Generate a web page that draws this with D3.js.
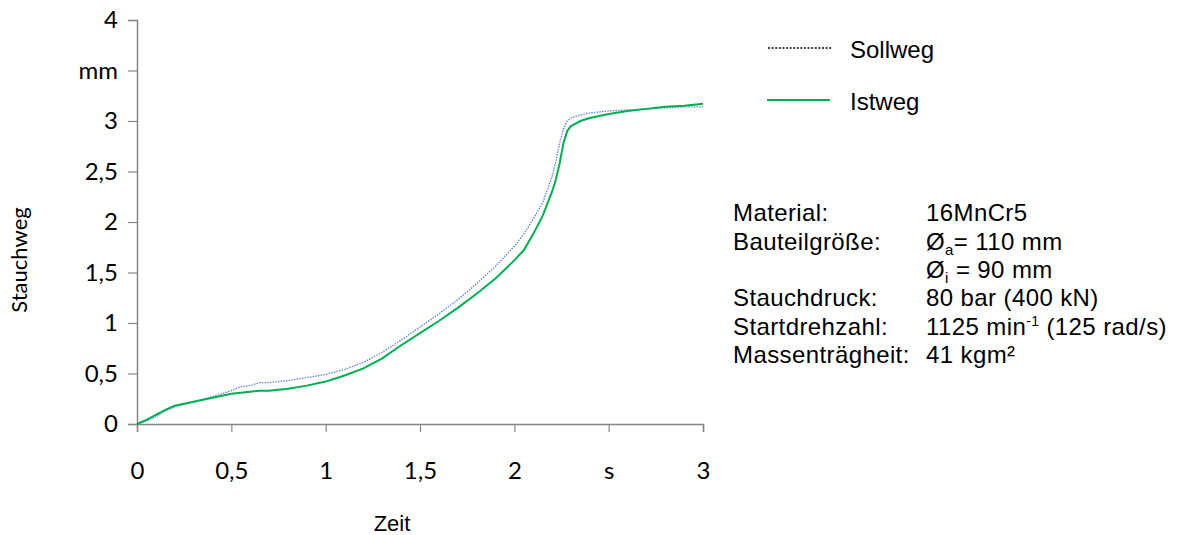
<!DOCTYPE html>
<html><head><meta charset="utf-8">
<script src="https://cdn.jsdelivr.net/npm/d3@7/dist/d3.min.js"></script>
<style>body{margin:0;background:#fff}svg{display:block}</style>
</head><body>
<svg id="c" width="1183" height="535"></svg>
<script>
const time = [0,0.05,0.1,0.15,0.2,0.3,0.4,0.5,0.55,0.6,0.65,0.7,0.8,0.9,1.0,1.1,1.2,1.3,1.4,1.5,1.6,1.7,1.8,1.9,2.0,2.05,2.1,2.15,2.2,2.22,2.24,2.26,2.28,2.3,2.35,2.4,2.5,2.6,2.7,2.8,2.9,3.0];
const istweg = [0,0.04,0.09,0.14,0.18,0.22,0.26,0.30,0.31,0.32,0.33,0.33,0.35,0.38,0.42,0.48,0.55,0.65,0.78,0.90,1.02,1.15,1.29,1.44,1.62,1.72,1.88,2.06,2.30,2.42,2.58,2.78,2.90,2.95,3.00,3.03,3.07,3.10,3.12,3.14,3.15,3.17];
const sollweg = [0,0.03,0.07,0.13,0.17,0.22,0.27,0.33,0.37,0.38,0.41,0.41,0.43,0.46,0.49,0.54,0.61,0.71,0.83,0.96,1.09,1.23,1.39,1.56,1.76,1.88,2.03,2.19,2.45,2.60,2.78,2.92,3.00,3.03,3.06,3.08,3.10,3.11,3.12,3.13,3.14,3.14];
const yTicks = [0,0.5,1,1.5,2,2.5,3,3.5,4];
const yTickLabels = ["0","0,5","1","1,5","2","2,5","3","mm","4"];
const xTicks = [0,0.5,1,1.5,2,2.5,3];
const xTickLabels = ["0","0,5","1","1,5","2","s","3"];
const seriesNames = ["Sollweg","Istweg"];
const infoLabels = ["Material:","Bauteilgröße:","","Stauchdruck:","Startdrehzahl:","Massenträgheit:"];

const svg = d3.select("#c");
const x = d3.scaleLinear().domain([0,3]).range([137,703]);
const y = d3.scaleLinear().domain([0,4]).range([424,20]);
const axisColor = "#868686";
const tickFont = "Lato, 'Open Sans', sans-serif";
const arial = "'Liberation Sans', Arial, sans-serif";

// Y axis
const ya = svg.append("g").attr("transform","translate(137,0)")
  .call(d3.axisLeft(y).tickValues(yTicks).tickSize(9).tickPadding(10)
    .tickFormat((d,i)=>yTickLabels[i]));
ya.select(".domain").attr("stroke",axisColor).attr("stroke-width",1.5);
ya.selectAll(".tick line").attr("stroke",axisColor).attr("stroke-width",1.2);
ya.selectAll(".tick text").attr("font-family",tickFont).attr("font-size",24).attr("fill","#000");

// X axis
const xa = svg.append("g").attr("transform","translate(0,424)")
  .call(d3.axisBottom(x).tickValues(xTicks).tickSize(8).tickPadding(30)
    .tickFormat((d,i)=>xTickLabels[i]));
xa.select(".domain").attr("stroke",axisColor).attr("stroke-width",1.5);
xa.selectAll(".tick line").attr("stroke",axisColor).attr("stroke-width",1.2);
xa.selectAll(".tick text").attr("font-family",tickFont).attr("font-size",24).attr("fill","#000");

// axis titles
svg.append("text").attr("x",392).attr("y",531).attr("text-anchor","middle")
  .attr("font-family",arial).attr("font-size",22).text("Zeit");
svg.append("text").attr("transform","translate(27,260) rotate(-90)").attr("text-anchor","middle")
  .attr("font-family",tickFont).attr("font-size",22).text("Stauchweg");

// lines
const line = vals => d3.line().x((d,i)=>x(time[i])).y(d=>y(d))(vals);
svg.append("path").attr("d",line(sollweg)).attr("fill","none")
  .attr("stroke","#5B85D0").attr("stroke-width",1.3).attr("stroke-dasharray","1.5,1.2");
svg.append("path").attr("d",line(istweg)).attr("fill","none")
  .attr("stroke","#00B050").attr("stroke-width",2);

// legend
const lg = svg.append("g");
lg.append("line").attr("x1",768).attr("x2",832).attr("y1",48).attr("y2",48)
  .attr("stroke","#404040").attr("stroke-width",2).attr("stroke-dasharray","2,1.6");
lg.append("line").attr("x1",767).attr("x2",830).attr("y1",100).attr("y2",100)
  .attr("stroke","#00B050").attr("stroke-width",2.2);
lg.append("text").attr("x",850).attr("y",58).attr("font-family",arial).attr("font-size",24).text(seriesNames[0]);
lg.append("text").attr("x",850).attr("y",110).attr("font-family",arial).attr("font-size",24).text(seriesNames[1]);

// info block
const baselines = [221,249.5,278,306,334.5,363];
const info = svg.append("g").attr("font-family",arial).attr("font-size",24).attr("letter-spacing",0.4);
infoLabels.forEach((t,i)=>{ if(t) info.append("text").attr("x",733).attr("y",baselines[i]).text(t); });
const vx = 926;
info.append("text").attr("x",vx).attr("y",baselines[0]).text("16MnCr5");
let t1 = info.append("text").attr("x",vx).attr("y",baselines[1]);
t1.append("tspan").text("Ø");
t1.append("tspan").attr("font-size",15).attr("dy",5).text("a");
t1.append("tspan").attr("dy",-5).text("= 110 mm");
let t2 = info.append("text").attr("x",vx).attr("y",baselines[2]);
t2.append("tspan").text("Ø");
t2.append("tspan").attr("font-size",15).attr("dy",5).text("i");
t2.append("tspan").attr("dy",-5).text(" = 90  mm");
info.append("text").attr("x",vx).attr("y",baselines[3]).text("80 bar (400  kN)");
let t4 = info.append("text").attr("x",vx).attr("y",baselines[4]);
t4.append("tspan").text("1125 min");
t4.append("tspan").attr("font-size",14).attr("dy",-9).text("-1");
t4.append("tspan").attr("dy",9).text(" (125  rad/s)");
info.append("text").attr("x",vx).attr("y",baselines[5]).text("41 kgm²");
</script>
</body></html>
